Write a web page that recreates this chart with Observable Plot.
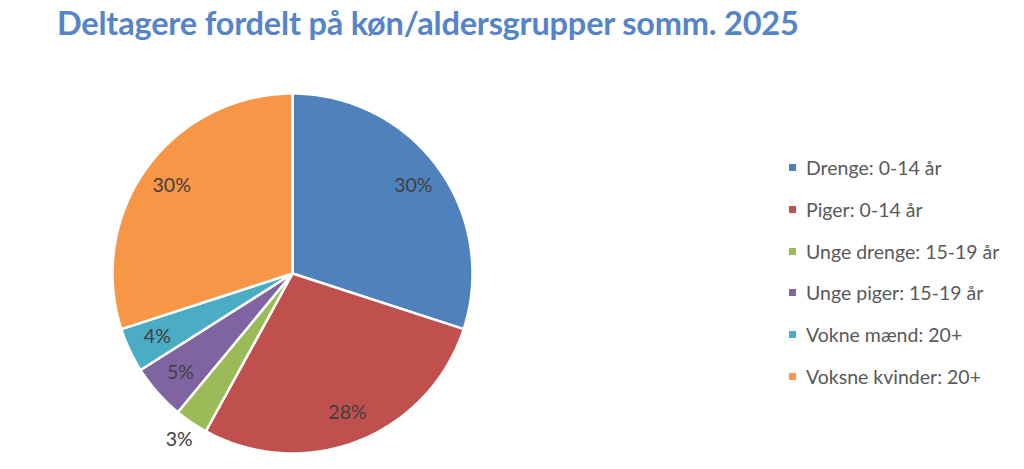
<!DOCTYPE html>
<html>
<head>
<meta charset="utf-8">
<script src="https://cdn.jsdelivr.net/npm/d3@7"></script>
<script src="https://cdn.jsdelivr.net/npm/@observablehq/plot@0.6"></script>
<style>
  html, body { margin: 0; padding: 0; background: #fff; }
  #wrap { position: relative; width: 1024px; height: 469px; overflow: hidden; font-family: Lato, "Open Sans", sans-serif; }
  #title { position: absolute; left: 57px; top: 3px; height: 57px; font-size: 32.5px; font-weight: bold; color: #5585c8; white-space: nowrap; letter-spacing: -0.2px; }
  #chart { position: absolute; left: 0; top: 60px; }
  #legend { position: absolute; left: 789px; top: 156px; }
  .item { height: 41.8px; display: flex; align-items: flex-start; font-size: 19.5px; line-height: 1.2; color: #595959; }
  .sw { width: 7px; height: 7px; margin-right: 10px; margin-top: 8px; flex: none; }
</style>
</head>
<body>
<div id="wrap">
  <div id="title">Deltagere fordelt på køn/aldersgrupper somm. 2025</div>
  <div id="chart"></div>
  <div id="legend"></div>
</div>
<script>
const categories = ["Drenge: 0-14 år", "Piger: 0-14 år", "Unge drenge: 15-19 år", "Unge piger: 15-19 år", "Vokne mænd: 20+", "Voksne kvinder: 20+"];
const values = [30, 28, 3, 5, 4, 30];
const labels = ["30%", "28%", "3%", "5%", "4%", "30%"];
const colors = ["#4F81BD", "#C0504D", "#9BBB59", "#8064A2", "#4BACC6", "#F79646"];

const arcs = d3.pie().sort(null).value(d => d)(values);

// polygon points for each slice (unit circle, angle clockwise from top)
const pts = [];
arcs.forEach((a, i) => {
  const n = Math.max(2, Math.ceil((a.endAngle - a.startAngle) / (Math.PI / 180)));
  pts.push({cat: categories[i], x: 0, y: 0});
  for (let k = 0; k <= n; k++) {
    const t = a.startAngle + (a.endAngle - a.startAngle) * k / n;
    pts.push({cat: categories[i], x: Math.sin(t), y: Math.cos(t)});
  }
  pts.push({cat: categories[i], x: 0, y: 0});
});

const labelData = arcs.map((a, i) => {
  const m = (a.startAngle + a.endAngle) / 2;
  const r = values[i] / d3.sum(values) < 0.035 ? 1.12 : 0.83;
  return {label: labels[i], x: r * Math.sin(m), y: r * Math.cos(m)};
});

const chart = Plot.plot({
  width: 1024,
  height: 409,
  margin: 0,
  x: {domain: [-1, 1], range: [112, 472], axis: null},
  y: {domain: [-1, 1], range: [393, 33], axis: null},
  color: {domain: categories, range: colors},
  style: {fontFamily: "Lato, 'Open Sans', sans-serif", background: "white"},
  marks: [
    Plot.line(pts, {x: "x", y: "y", z: "cat", fill: "cat", stroke: "white", strokeWidth: 2.5, strokeLinejoin: "round"}),
    Plot.text(labelData, {x: "x", y: "y", text: "label", fontSize: 19.5, fill: "#404040"})
  ]
});
document.getElementById("chart").appendChild(chart);

const legend = document.getElementById("legend");
categories.forEach((c, i) => {
  const row = document.createElement("div");
  row.className = "item";
  const sw = document.createElement("div");
  sw.className = "sw";
  sw.style.background = colors[i];
  const tx = document.createElement("span");
  tx.textContent = c;
  row.appendChild(sw);
  row.appendChild(tx);
  legend.appendChild(row);
});
</script>
</body>
</html>
